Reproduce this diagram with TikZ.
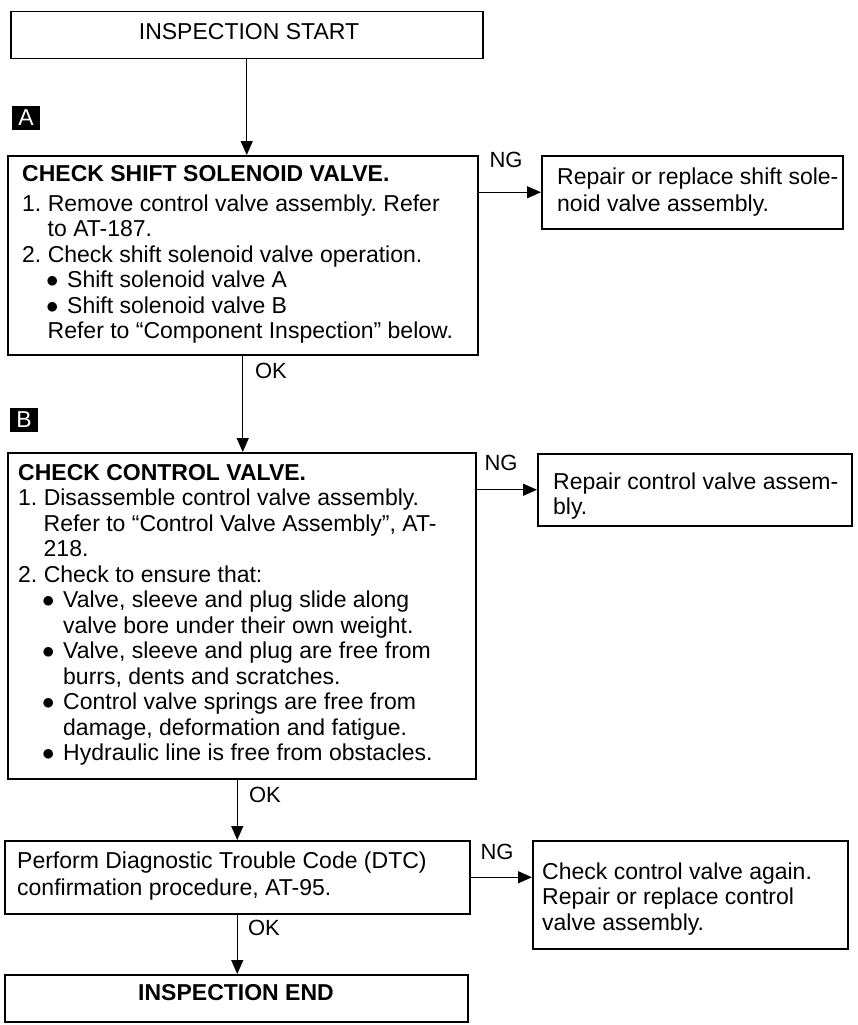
\documentclass[tikz,border=0pt]{standalone}
\usepackage{fontspec}
\setmainfont{Liberation Sans}
\usetikzlibrary{arrows.meta}
\newcommand\ind{\hspace*{25.5pt}}
\newcommand\bul{\hspace*{24pt}\makebox[21pt][l]{$\bullet$}}
\newcommand\bcont{\hspace*{45pt}}
\frenchspacing
\begin{document}
\begin{tikzpicture}[x=1pt,y=-1pt,
  box/.style={draw, line width=1.5pt, inner sep=0pt, anchor=north west},
  txt/.style={inner sep=0pt, anchor=north west, align=left, font=\fontsize{23}{25.5}\selectfont},
  lab/.style={inner sep=0pt, font=\fontsize{22}{25}\selectfont},
  conn/.style={line width=1.3pt, -{Triangle[length=14pt,width=12pt]}},
  tag/.style={fill=black, text=white, inner sep=0pt, minimum width=28pt, minimum height=24pt, font=\fontsize{23}{23}\selectfont}
]
\useasboundingbox (0,0) rectangle (858,1025);

% boxes
\node[box, minimum width=472pt, minimum height=47pt] (start) at (10,11) {};
\node[box, minimum width=470pt, minimum height=199pt] (A) at (7,155) {};
\node[box, minimum width=301pt, minimum height=73pt] (NGA) at (541,155) {};
\node[box, minimum width=468pt, minimum height=326pt] (B) at (7,452) {};
\node[box, minimum width=314pt, minimum height=72pt] (NGB) at (537,453) {};
\node[box, minimum width=465pt, minimum height=73pt] (C) at (4,840) {};
\node[box, minimum width=315pt, minimum height=108pt] (NGC) at (532,840) {};
\node[box, minimum width=463pt, minimum height=47pt] (stop) at (4,974) {};

% tags
\node[tag] (tagA) at (26,117.5) {A};
\node[tag] (tagB) at (24,419.5) {B};

% texts
\node[lab, font=\fontsize{23}{25}\selectfont] (tstart) at (249,32) {INSPECTION START};
\node[lab, font=\fontsize{23}{25}\selectfont\bfseries] (tstop) at (236,993) {INSPECTION END};

\node[txt] (tA) at (22,163) {\strut\textbf{CHECK SHIFT SOLENOID VALVE.}\\[4.5pt]
1. Remove control valve assembly. Refer\\
\ind to AT-187.\\
2. Check shift solenoid valve operation.\\
\bul Shift solenoid valve A\\
\bul Shift solenoid valve B\\
\ind Refer to “Component Inspection” below.};

\node[txt] (tNGA) at (557,166) {\strut Repair or replace shift sole-\\[1.5pt]
noid valve assembly.};

\node[txt] (tB) at (18,462) {\strut\textbf{CHECK CONTROL VALVE.}\\
1. Disassemble control valve assembly.\\
\ind Refer to “Control Valve Assembly”, AT-\\
\ind 218.\\
2. Check to ensure that:\\
\bul Valve, sleeve and plug slide along\\
\bcont valve bore under their own weight.\\
\bul Valve, sleeve and plug are free from\\
\bcont burrs, dents and scratches.\\
\bul Control valve springs are free from\\
\bcont damage, deformation and fatigue.\\
\bul Hydraulic line is free from obstacles.};

\node[txt] (tNGB) at (553,471) {\strut Repair control valve assem-\\
bly.};

\node[txt] (tC) at (17,850) {\strut Perform Diagnostic Trouble Code (DTC)\\[1.5pt]
confirmation procedure, AT-95.};

\node[txt] (tNGC) at (542,861) {\strut Check control valve again.\\
Repair or replace control\\
valve assembly.};

% connectors
\draw[conn] (start.south) -- (start.south |- A.north);
\draw[conn] (NGA.west -| A.east) -- (NGA.west);
\draw[conn] (A.south) -- (A.south |- B.north);
\draw[conn] (NGB.west -| B.east) -- (NGB.west);
\draw[conn] (B.south -| C.north) -- (C.north);
\draw[conn] (C.east) -- (C.east -| NGC.west);
\draw[conn] (C.south) -- (C.south |- stop.north);

% branch labels
\node[lab] (ngA) at (506,160) {NG};
\node[lab] (okA) at (271,371) {OK};
\node[lab] (ngB) at (501,463) {NG};
\node[lab] (okB) at (265,795) {OK};
\node[lab] (ngC) at (497,852) {NG};
\node[lab] (okC) at (264,928) {OK};
\end{tikzpicture}
\end{document}
